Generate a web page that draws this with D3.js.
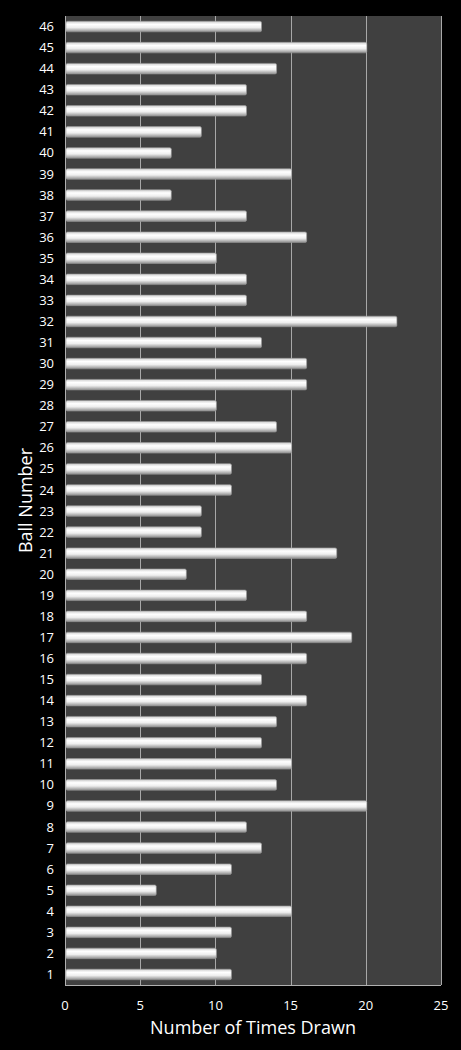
<!DOCTYPE html>
<meta charset="utf-8">
<head>
  <style>
    body { margin: 0; background: #000; }
    text { font-family: "Open Sans", "DejaVu Sans", sans-serif; fill: #fff; }
  </style>
</head>
<body>
  <div class="chart"></div>
  <script src="https://d3js.org/d3.v7.min.js"></script>
  <script>
    // ball numbers 1..46 and how many times each was drawn
    var balls = [1, 2, 3, 4, 5, 6, 7, 8, 9, 10, 11, 12, 13, 14, 15, 16, 17, 18, 19, 20, 21, 22, 23,
      24, 25, 26, 27, 28, 29, 30, 31, 32, 33, 34, 35, 36, 37, 38, 39, 40, 41, 42, 43, 44, 45, 46];
    var timesDrawn = [11, 10, 11, 15, 6, 11, 13, 12, 20, 14, 15, 13, 14, 16, 13, 16, 19, 16, 12, 8, 18, 9, 9,
      11, 11, 15, 14, 10, 16, 16, 13, 22, 12, 12, 10, 16, 12, 7, 15, 7, 9, 12, 12, 14, 20, 13];
    var xTicks = [0, 5, 10, 15, 20, 25];

    var width = 461, height = 1050;
    var margin = { top: 16, right: 20, bottom: 65, left: 65 };

    var svg = d3.select(".chart").append("svg")
      .attr("width", width)
      .attr("height", height);

    // bar shading, looks like a little cylinder
    var grad = svg.append("defs").append("linearGradient")
      .attr("id", "barGrad")
      .attr("x1", 0).attr("y1", 0).attr("x2", 0).attr("y2", 1);
    grad.append("stop").attr("offset", "0%").attr("stop-color", "#cfcfcf");
    grad.append("stop").attr("offset", "30%").attr("stop-color", "#ffffff");
    grad.append("stop").attr("offset", "60%").attr("stop-color", "#eeeeee");
    grad.append("stop").attr("offset", "100%").attr("stop-color", "#8f8f8f");

    var x = d3.scaleLinear()
      .domain([0, 25])
      .range([margin.left, width - margin.right]);

    var y = d3.scaleBand()
      .domain(balls.slice().reverse())
      .range([margin.top, height - margin.bottom])
      .paddingInner(0.5)
      .paddingOuter(0.25);

    // plot background
    svg.append("rect")
      .attr("x", x(0))
      .attr("y", margin.top)
      .attr("width", x(25) - x(0))
      .attr("height", height - margin.bottom - margin.top)
      .attr("fill", "#404040");

    // vertical gridlines
    svg.selectAll(".grid")
      .data(xTicks.slice(1))
      .enter().append("line")
      .attr("class", "grid")
      .attr("x1", function (d) { return Math.round(x(d)) + 0.5; })
      .attr("x2", function (d) { return Math.round(x(d)) + 0.5; })
      .attr("y1", margin.top)
      .attr("y2", height - margin.bottom)
      .attr("stroke", "#a8a8a8")
      .attr("stroke-width", 1);

    // bars
    svg.selectAll(".bar")
      .data(balls)
      .enter().append("rect")
      .attr("class", "bar")
      .attr("x", x(0) + 1)
      .attr("y", function (d) { return y(d); })
      .attr("width", function (d, i) { return x(timesDrawn[i]) - x(0); })
      .attr("height", y.bandwidth())
      .attr("rx", 1.5)
      .attr("fill", "url(#barGrad)")
      .attr("stroke", "#9a9a9a")
      .attr("stroke-width", 0.6);

    // axis lines
    svg.append("line")
      .attr("x1", x(0) + 0.5).attr("x2", x(0) + 0.5)
      .attr("y1", margin.top).attr("y2", height - margin.bottom)
      .attr("stroke", "#b0b0b0");
    svg.append("line")
      .attr("x1", x(0)).attr("x2", x(25))
      .attr("y1", height - margin.bottom + 0.5).attr("y2", height - margin.bottom + 0.5)
      .attr("stroke", "#b0b0b0");

    // x tick labels
    svg.selectAll(".xlab")
      .data(xTicks)
      .enter().append("text")
      .attr("class", "xlab")
      .attr("x", function (d) { return x(d); })
      .attr("y", height - margin.bottom + 25)
      .attr("text-anchor", "middle")
      .style("font-size", "13px")
      .text(function (d) { return d; });

    // y tick labels
    svg.selectAll(".ylab")
      .data(balls)
      .enter().append("text")
      .attr("class", "ylab")
      .attr("x", 54)
      .attr("y", function (d) { return y(d) + y.bandwidth() / 2; })
      .attr("dy", "0.35em")
      .attr("text-anchor", "end")
      .style("font-size", "13px")
      .text(function (d) { return d; });

    // axis titles
    svg.append("text")
      .attr("x", 253)
      .attr("y", 1034)
      .attr("text-anchor", "middle")
      .style("font-size", "18px")
      .text("Number of Times Drawn");

    svg.append("text")
      .attr("transform", "translate(32," + ((margin.top + height - margin.bottom) / 2) + ") rotate(-90)")
      .attr("text-anchor", "middle")
      .style("font-size", "18px")
      .text("Ball Number");
  </script>
</body>
